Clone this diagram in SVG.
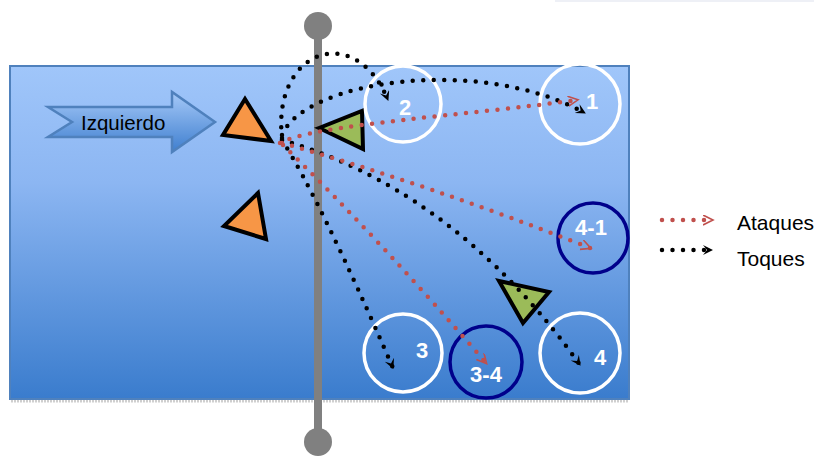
<svg xmlns="http://www.w3.org/2000/svg" width="814" height="457" viewBox="0 0 814 457">
<defs>
<linearGradient id="court" x1="0" y1="0" x2="0" y2="1">
<stop offset="0" stop-color="#a0c6fa"/>
<stop offset="0.35" stop-color="#8cb6f2"/>
<stop offset="1" stop-color="#3a7ccd"/>
</linearGradient>
<linearGradient id="arrowFill" x1="0" y1="0" x2="0" y2="1">
<stop offset="0" stop-color="#a6c9f8"/>
<stop offset="1" stop-color="#3f7fcf"/>
</linearGradient>
<marker id="mBlack" markerUnits="userSpaceOnUse" markerWidth="12" markerHeight="12" refX="9" refY="5" orient="auto">
<path d="M0,0 L10,5 L0,10 L4,5 z" fill="#000"/>
</marker>
<marker id="mRed" markerUnits="userSpaceOnUse" markerWidth="12" markerHeight="12" refX="9" refY="5" orient="auto">
<path d="M0,0 L10,5 L0,10" fill="none" stroke="#c0504d" stroke-width="1.6"/>
</marker>
</defs>
<style>
.tri-o{fill:#f79646;stroke:#000;stroke-width:4;stroke-linejoin:miter}
.tri-g{fill:#9bbb59;stroke:#000;stroke-width:4;stroke-linejoin:miter}
.cw{fill:none;stroke:#fff;stroke-width:3.5}
.cn{fill:none;stroke:#00008b;stroke-width:3.5}
.lbl{font-family:"Liberation Sans",Arial,sans-serif;font-weight:bold;font-size:22px;fill:#fff;text-anchor:middle}
.leg{font-family:"Liberation Sans",Arial,sans-serif;font-size:21px;fill:#000}
.blk{fill:none;stroke:#000;stroke-width:4.5;stroke-linecap:round;stroke-dasharray:0 10.5;marker-end:url(#mBlack)}
.red{fill:none;stroke:#c0504d;stroke-width:4.5;stroke-linecap:round;stroke-dasharray:0 10.5;marker-end:url(#mRed)}
</style>
<line x1="555" y1="1" x2="814" y2="1" stroke="#eef0f6" stroke-width="2"/>
<g id="court-area">
<line x1="11" y1="401" x2="629" y2="401" stroke="#cfcfcf" stroke-width="3" stroke-dasharray="2 1"/>
<rect x="10" y="66" width="619" height="333" fill="url(#court)" stroke="#4f81bd" stroke-width="2"/>
</g>
<g id="pole">
<line x1="318" y1="26" x2="318" y2="442" stroke="#808080" stroke-width="8"/>
<circle cx="318" cy="26" r="14" fill="#808080"/>
<circle cx="318" cy="442" r="14" fill="#808080"/>
</g>
<g id="izquierdo">
<path d="M48,107 L172,107 L172,92 L215,122 L172,152 L172,137 L48,137 L72,122 z" fill="url(#arrowFill)" stroke="#4f81bd" stroke-width="2.5" stroke-linejoin="miter"/>
<text x="81" y="130" font-family="'Liberation Sans',Arial,sans-serif" font-size="20.5" fill="#000">Izquierdo</text>
</g>
<g id="orange1"><polygon class="tri-o" points="245,99 223,135 271,141"/></g>
<g id="orange2"><polygon class="tri-o" points="258,193 224,226 266,239"/></g>
<g id="green1"><polygon class="tri-g" points="319,128 362,111 363,149"/></g>
<g id="green2"><polygon class="tri-g" points="499,281 549,292 523,323"/></g>
<g id="c2"><circle class="cw" cx="403" cy="104" r="38"/><text class="lbl" x="405" y="115">2</text></g>
<g id="c1"><circle class="cw" cx="580" cy="104" r="40"/><text class="lbl" x="592" y="109">1</text></g>
<g id="c41"><circle class="cn" cx="593" cy="238" r="35"/><text class="lbl" x="591" y="235">4-1</text></g>
<g id="c3"><circle class="cw" cx="403" cy="353" r="39"/><text class="lbl" x="422" y="358">3</text></g>
<g id="c34"><circle class="cn" cx="486" cy="362" r="36"/><text class="lbl" x="486" y="382">3-4</text></g>
<g id="c4"><circle class="cw" cx="580" cy="353" r="40"/><text class="lbl" x="600" y="365">4</text></g>
<g id="connectors">
<path class="blk" d="M282,138 C272,50 355,20 388,100"/>
<path class="blk" d="M282,135 C305,80 480,55 585,113"/>
<path class="blk" d="M282,140 C350,160 470,210 580,365"/>
<path class="blk" d="M282,140 Q320,200 393,368"/>
<path class="red" d="M280,143 C310,125 470,115 577,100"/>
<path class="red" d="M282,143 Q430,185 590,248"/>
<path class="red" d="M283,145 Q380,240 486,363"/>
</g>
<g id="legend">
<path class="red" d="M662,220 L712,220"/>
<text class="leg" x="737" y="230">Ataques</text>
<path class="blk" d="M662,250 L712,250"/>
<text class="leg" x="737" y="266">Toques</text>
</g>
</svg>
